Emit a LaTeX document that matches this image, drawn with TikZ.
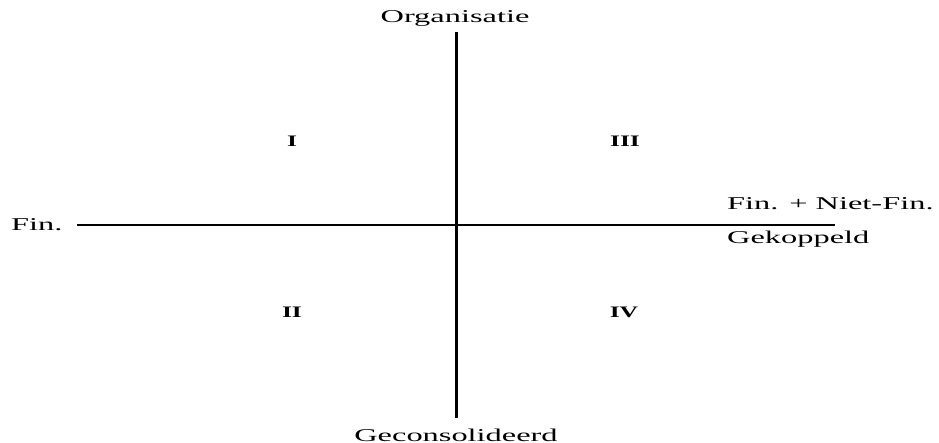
\documentclass[tikz,border=0pt]{standalone}
\usepackage{fontspec}
\setmainfont{Liberation Serif}
\begin{document}
\begin{tikzpicture}[x=1pt,y=-1pt,
  lbl/.style={inner sep=0pt,font=\fontsize{18}{21}\selectfont},
  quad/.style={inner sep=0pt,font=\fontsize{16}{18}\selectfont\bfseries},
  axisv/.style={line width=3pt},
  axish/.style={line width=1.5pt}]
\useasboundingbox (0,0) rectangle (939,443);
\coordinate (vt) at (456.5,32);
\coordinate (vb) at (456.5,418);
\coordinate (hl) at (77,225);
\coordinate (hr) at (835,225);
\draw[axish] (hl) -- (hr);
\draw[axisv] (vt) -- (vb);
\node[lbl,anchor=base] (org) at (455,23) {\scalebox{1.8}[1]{Organisatie}};
\node[lbl,anchor=base] (geco) at (456,441) {\scalebox{1.8}[1]{Geconsolideerd}};
\node[lbl,anchor=base west] (fin) at (11,231) {\scalebox{1.8}[1]{Fin.}};
\node[lbl,anchor=base west] (nfin) at (727,210) {\scalebox{1.8}[1]{Fin. + Niet-Fin.}};
\node[lbl,anchor=base west] (gek) at (727,244) {\scalebox{1.8}[1]{Gekoppeld}};
\node[quad] (q1) at (292,141) {\scalebox{1.6}[1]{I}};
\node[quad] (q3) at (625,141) {\scalebox{1.6}[1]{III}};
\node[quad] (q2) at (292,312) {\scalebox{1.6}[1]{II}};
\node[quad] (q4) at (624,312) {\scalebox{1.6}[1]{IV}};
\end{tikzpicture}
\end{document}
